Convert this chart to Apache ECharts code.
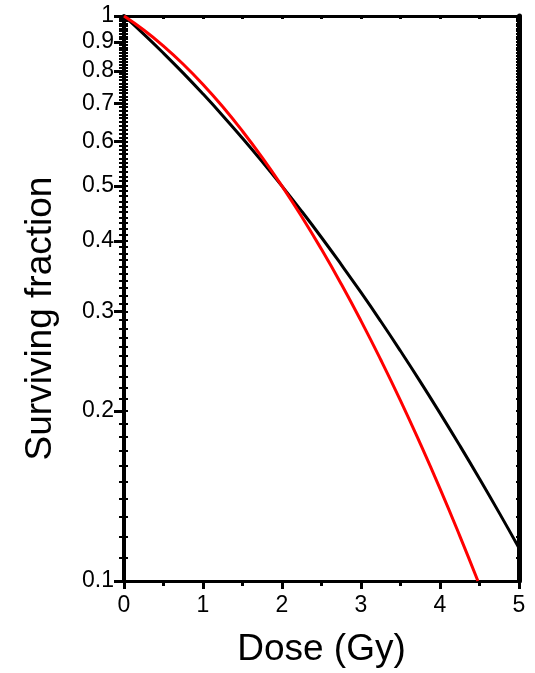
<!DOCTYPE html>
<html>
<head>
<meta charset="utf-8">
<script src="https://cdn.jsdelivr.net/npm/echarts@6/dist/echarts.min.js"></script>
<style>
html,body{margin:0;padding:0;background:#fff;}
#chart{width:535px;height:673px;}
</style>
</head>
<body>
<div id="chart"></div>
<script>
// Dose values (Gy)
var doseBlack = [0, 0.25, 0.5, 0.75, 1, 1.25, 1.5, 1.75, 2, 2.25, 2.5, 2.75, 3, 3.25, 3.5, 3.75, 4, 4.25, 4.5, 4.75, 5];
var survBlack = [1, 0.9287, 0.8594, 0.7924, 0.7279, 0.6663, 0.6077, 0.5522, 0.5, 0.4511, 0.4055, 0.3631, 0.3241, 0.2882, 0.2553, 0.2254, 0.1982, 0.1737, 0.1517, 0.132, 0.1144];
var doseRed = [0, 0.25, 0.5, 0.75, 1, 1.25, 1.5, 1.75, 2, 2.25, 2.5, 2.75, 3, 3.25, 3.5, 3.75, 4, 4.25, 4.48];
var survRed = [1, 0.9445, 0.8846, 0.8215, 0.7565, 0.6908, 0.6254, 0.5616, 0.5, 0.4414, 0.3864, 0.3354, 0.2887, 0.2464, 0.2086, 0.175, 0.1457, 0.1202, 0.1];
// Tick values
var yMajorTicks = [0.1, 0.2, 0.3, 0.4, 0.5, 0.6, 0.7, 0.8, 0.9, 1];
var yMinorTicks = [0.11, 0.12, 0.13, 0.14, 0.15, 0.16, 0.17, 0.18, 0.19,
  0.21, 0.22, 0.23, 0.24, 0.25, 0.26, 0.27, 0.28, 0.29,
  0.31, 0.32, 0.33, 0.34, 0.35, 0.36, 0.37, 0.38, 0.39,
  0.41, 0.42, 0.43, 0.44, 0.45, 0.46, 0.47, 0.48, 0.49,
  0.51, 0.52, 0.53, 0.54, 0.55, 0.56, 0.57, 0.58, 0.59,
  0.61, 0.62, 0.63, 0.64, 0.65, 0.66, 0.67, 0.68, 0.69,
  0.71, 0.72, 0.73, 0.74, 0.75, 0.76, 0.77, 0.78, 0.79,
  0.81, 0.82, 0.83, 0.84, 0.85, 0.86, 0.87, 0.88, 0.89,
  0.91, 0.92, 0.93, 0.94, 0.95, 0.96, 0.97, 0.98, 0.99];

function pairs(xs, ys) { return xs.map(function (x, i) { return [x, ys[i]]; }); }

var FONT = 'Liberation Sans, Arial, sans-serif';
var chart = echarts.init(document.getElementById('chart'), null, {renderer: 'canvas'});
chart.setOption({
  animation: false,
  backgroundColor: '#fff',
  grid: {left: 124, right: 16, top: 16, bottom: 91, containLabel: false},
  xAxis: [{
    type: 'value', min: 0, max: 5, interval: 1, position: 'bottom',
    axisLine: {show: true, onZero: false, lineStyle: {color: '#000', width: 3}},
    axisTick: {show: true, length: 8, lineStyle: {color: '#000', width: 3}},
    minorTick: {show: true, splitNumber: 2, length: 5, lineStyle: {color: '#000', width: 3}},
    splitLine: {show: false},
    axisLabel: {color: '#000', fontSize: 23, fontFamily: FONT, margin: 13},
    name: 'Dose (Gy)', nameLocation: 'middle', nameGap: 50,
    nameTextStyle: {color: '#000', fontSize: 37, fontFamily: FONT}
  }, {
    type: 'value', min: 0, max: 5, interval: 0.5, position: 'top',
    axisLine: {show: true, onZero: false, lineStyle: {color: '#000', width: 3}},
    axisTick: {show: true, inside: true, length: 3, lineStyle: {color: '#000', width: 3}},
    splitLine: {show: false},
    axisLabel: {show: false}
  }],
  yAxis: [{
    type: 'log', logBase: 10, min: 0.1, max: 1, position: 'left',
    axisLine: {show: true, onZero: false, lineStyle: {color: '#000', width: 4}},
    axisTick: {show: true, customValues: yMajorTicks, length: 10, lineStyle: {color: '#000', width: 3}},
    splitLine: {show: false},
    minorTick: {show: false},
    axisLabel: {
      customValues: yMajorTicks, color: '#000', fontSize: 23, fontFamily: FONT, margin: 10,
      formatter: function (v) { return String(Math.round(v * 10) / 10); }
    },
    name: 'Surviving fraction', nameLocation: 'middle', nameGap: 65,
    nameTextStyle: {color: '#000', fontSize: 37, fontFamily: FONT, padding: [0, 40, 0, 0]}
  }, {
    type: 'log', logBase: 10, min: 0.1, max: 1, position: 'left',
    axisLine: {show: false},
    axisTick: {show: true, customValues: yMinorTicks, length: 5, lineStyle: {color: '#000', width: 2}},
    splitLine: {show: false},
    axisLabel: {show: false}
  }, {
    type: 'log', logBase: 10, min: 0.1, max: 1, position: 'left',
    axisLine: {show: false},
    axisTick: {show: true, inside: true, customValues: yMajorTicks.concat(yMinorTicks), length: 4, lineStyle: {color: '#000', width: 2}},
    splitLine: {show: false},
    axisLabel: {show: false}
  }, {
    type: 'log', logBase: 10, min: 0.1, max: 1, position: 'right',
    axisLine: {show: true, onZero: false, lineStyle: {color: '#000', width: 5}},
    axisTick: {show: true, inside: true, customValues: yMajorTicks.concat(yMinorTicks), length: 3, lineStyle: {color: '#000', width: 2}},
    splitLine: {show: false},
    axisLabel: {show: false}
  }],
  series: [{
    type: 'line', xAxisIndex: 0, yAxisIndex: 0,
    data: pairs(doseBlack, survBlack),
    smooth: true, showSymbol: false, symbol: 'none',
    lineStyle: {color: '#000', width: 3}
  }, {
    type: 'line', xAxisIndex: 0, yAxisIndex: 0,
    data: pairs(doseRed, survRed),
    smooth: true, showSymbol: false, symbol: 'none',
    lineStyle: {color: '#ff0000', width: 3}
  }]
});
</script>
</body>
</html>
